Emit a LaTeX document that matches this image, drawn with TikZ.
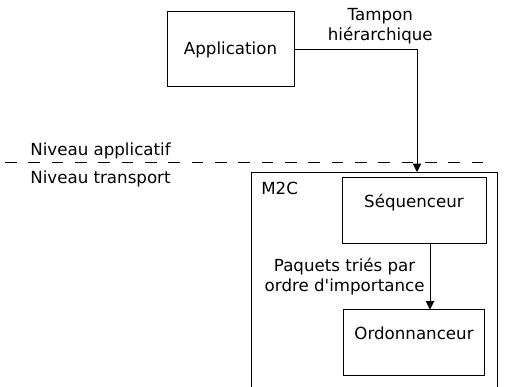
\documentclass[tikz,border=0pt]{standalone}
\usepackage{fontspec}
\setmainfont{DejaVu Sans}
\usetikzlibrary{arrows.meta, positioning}
\tikzset{
  mbox/.style={draw, semithick, align=center, inner sep=3pt},
  mflow/.style={-{Triangle[length=5pt, width=5pt]}, semithick},
  mlbl/.style={align=center, inner sep=3pt},
  mlevel/.style={semithick, dash pattern=on 7pt off 7pt},
}

\begin{document}
\begin{tikzpicture}[x=0.6pt, y=-0.6pt, node distance=39pt]
    \clip (0,0) rectangle (505,387);
    \node[mbox, minimum width=76.2pt, minimum height=45pt] (app) at (230.5,49.5) {Application};
    \node[mbox, minimum width=147.6pt, minimum height=150pt, anchor=north west] (m2c) at (251,172) {};
    \node[anchor=north west, inner sep=6pt] (m2clbl) at (m2c.north west) {M2C};
    \node[mbox, minimum width=86.4pt, minimum height=39.6pt] (seq) at (414,211) {Séquenceur\\~};
    \node[mbox, minimum width=84.6pt, minimum height=39.6pt, below=of seq] (ord) {Ordonnanceur\\~};
    % separation between the two levels
    \coordinate (lvlL) at (5,163);
    \coordinate (lvlR) at (487,163);
    \draw[mlevel] (lvlL) -- (lvlR);
    \node[anchor=west, inner sep=0pt] (napp) at (30,151) {Niveau applicatif};
    \node[anchor=west, inner sep=0pt] (ntra) at (30,179) {Niveau transport};
    \draw[mflow] (app.east) -| ([xshift=1.8pt]seq.north |- m2c.north) node[mlbl, above, pos=0.35] {Tampon\\hiérarchique};
    \draw[mflow] ([xshift=9.6pt]seq.south) -- ([xshift=9.6pt]seq.south |- ord.north) node[mlbl, left, midway] {Paquets triés par\\ordre d\textquotesingle importance};
\end{tikzpicture}
\end{document}
